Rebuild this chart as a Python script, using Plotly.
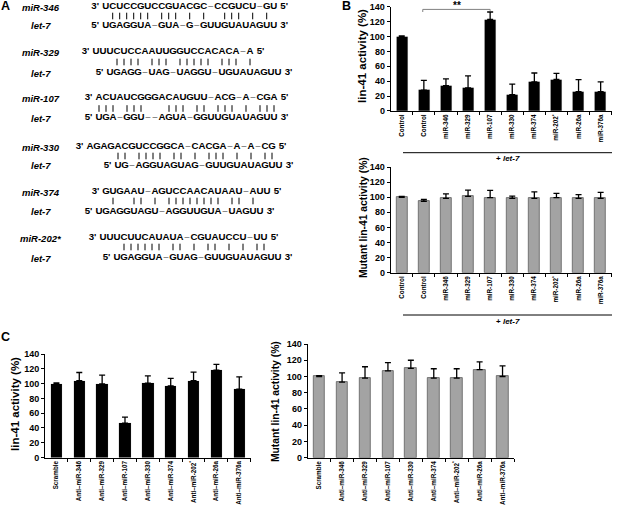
import plotly.graph_objects as go

W, H = 618, 521
FONT = "Liberation Sans, Arial, sans-serif"

# ---------------- Panel A data ----------------
a_mirs = ["miR-346", "miR-329", "miR-107", "miR-330", "miR-374", "miR-202*"]
a_mir_seqs = [
    "UCUCCGUCCGUACGC–CCGUCU–GU",
    "UUUCUCCAAUUGGUCCACACA–A",
    "ACUAUCGGGACAUGUU–ACG–A–CGA",
    "AGAGACGUCCGGCA–CACGA–A–A–CG",
    " GUGAAU–AGUCCAACAUAAU–AUU",
    "UUUCUUCAUAUA–CGUAUCCU–UU",
]
a_pairing = [
    " |||||| ||| | |  ||| | | ",
    "   |||| ||| ||||| ||| |",
    "||| |||   ||| || ||| | |||",
    "    || |||| || | ||| | | ||",
    "  |  || | |||||||| || |",
    "   |||||| || | || | | ||",
]
a_let7_seqs = [
    "UGAGGUA–GUA–G–GUUGUAUAGUU",
    "  UGAGG–UAG–UAGGU–UGUAUAGUU",
    "UGA–GGU––AGUA–GGUUGUAUAGUU",
    "    UG–AGGUAGUAG–GUUGUAUAGUU",
    "UGAGGUAGU–AGGUUGUA–UAGUU",
    "  UGAGGUA–GUAG–GUUGUAUAGUU",
]

# ---------------- Panel B data ----------------
b_labels = ["Control", "Control", "miR-346", "miR-329", "miR-107", "miR-330",
            "miR-374", "miR-202<sup>*</sup>", "miR-26a", "miR-376a"]
b_wt = [100, 28, 34, 31, 123, 22, 39, 42.5, 26, 26]
b_wt_err = [1, 13, 9, 16, 10, 14, 12, 8, 16, 13]
b_mut = [100, 94.5, 98.5, 101, 99.5, 98.5, 98.5, 99.5, 98.5, 98.5]
b_mut_err = [1, 2.5, 6, 8.5, 9.5, 3, 8.5, 5.5, 5, 8]

# ---------------- Panel C data ----------------
c_labels = ["Scramble", "Anti–miR-346", "Anti–miR-329", "Anti–miR-107", "Anti–miR-330",
            "Anti–miR-374", "Anti–miR-202<sup>*</sup>", "Anti–miR-26a", "Anti–miR-376a"]
c_wt = [100, 104, 99.5, 46.5, 100.5, 97, 104, 118, 92.5]
c_wt_err = [1, 11, 12, 8, 10, 10, 11.5, 8, 16.5]
c_mut = [100, 93, 98, 107, 110, 98, 98, 108.5, 100]
c_mut_err = [1, 11.5, 14, 10, 10, 11.5, 11.5, 9.5, 13]

y_ticks = [0, 20, 40, 60, 80, 100, 120, 140]


def px(x):
    return x / W


def py(y):
    return 1 - y / H


fig = go.Figure()

# ---------------- Panel A (text on a pixel-space hidden axis) ----------------
PITCH = 7.0
col0_x = [105.7, 96, 99, 90, 99, 103]
row_y = [(7, 16, 25.5), (52, 62, 73), (98, 108.5, 118), (147, 156, 166), (192, 201, 212), (238, 247, 258)]

lx, ly, lt, lc = [], [], [], []
bx, by = [], []
for k in range(len(a_mirs)):
    x0 = col0_x[k]
    yt, yb, yl = row_y[k]
    for seq, yy, pre, suf in ((a_mir_seqs[k], yt, "3'", "5'"), (a_let7_seqs[k], yl, "5'", "3'")):
        idx = [i for i, ch in enumerate(seq) if ch != " "]
        first, last = idx[0], idx[-1]
        lx.append(x0 + first * PITCH - 10.5); ly.append(yy); lt.append("<b>%s</b>" % pre); lc.append("black")
        for i in idx:
            ch = seq[i]
            lx.append(x0 + i * PITCH); ly.append(yy); lt.append("<b>%s</b>" % ch)
            lc.append("#8a8a8a" if ch == "–" else "black")
        lx.append(x0 + last * PITCH + 10.5); ly.append(yy); lt.append("<b>%s</b>" % suf); lc.append("black")
    for i, ch in enumerate(a_pairing[k]):
        if ch == "|":
            bx += [x0 + i * PITCH, x0 + i * PITCH, None]
            by += [yb - 3.3, yb + 3.3, None]
    fig.add_annotation(x=px(41), y=py(yt), xref="paper", yref="paper", showarrow=False,
                       xanchor="center", yanchor="middle",
                       text="<b><i>%s</i></b>" % a_mirs[k], font=dict(family=FONT, size=9.5, color="black"))
    fig.add_annotation(x=px(41), y=py(yl), xref="paper", yref="paper", showarrow=False,
                       xanchor="center", yanchor="middle",
                       text="<b><i>let-7</i></b>", font=dict(family=FONT, size=9.5, color="black"))

fig.add_trace(go.Scatter(x=lx, y=ly, text=lt, mode="text", textposition="middle center",
                         textfont=dict(family=FONT, size=9.7, color=lc),
                         xaxis="x5", yaxis="y5", hoverinfo="skip", cliponaxis=False))
fig.add_trace(go.Scatter(x=bx, y=by, mode="lines", line=dict(color="black", width=1),
                         xaxis="x5", yaxis="y5", hoverinfo="skip", cliponaxis=False))


# ---------------- Bar panels ----------------
def bars(vals, errs, ax, gray):
    n = len(vals)
    fig.add_trace(go.Bar(
        x=list(range(n)), y=vals, width=0.5,
        marker=dict(color="#a3a3a3" if gray else "black",
                    line=dict(color="#5e5e5e" if gray else "black", width=0.8 if gray else 0.1)),
        error_y=dict(type="data", symmetric=False, array=errs, arrayminus=[0] * n,
                     color="black", thickness=1.3, width=3),
        xaxis="x" + ax, yaxis="y" + ax, hoverinfo="skip"))


bars(b_wt, b_wt_err, "", False)
bars(b_mut, b_mut_err, "2", True)
bars(c_wt, c_wt_err, "3", False)
bars(c_mut, c_mut_err, "4", True)


def xax(dom, labels, anchor):
    n = len(labels)
    return dict(domain=dom, range=[-0.5, n - 0.5], anchor=anchor, tickmode="array",
                tickvals=list(range(n)), ticktext=["<b>%s</b>" % s for s in labels],
                tickangle=-90, ticks="",
                showline=True, linecolor="black", linewidth=1, showgrid=False, zeroline=False,
                tickfont=dict(family=FONT, size=6.3, color="black"), automargin=False,
                fixedrange=True)


def xtick_ax(dom, n, anchor, over):
    # overlay axis that only draws the small ticks at category boundaries
    return dict(domain=dom, range=[-0.5, n - 0.5], anchor=anchor, overlaying=over, side="bottom",
                tickmode="array", tickvals=[i + 0.5 for i in range(n)], ticks="outside", ticklen=3,
                tickcolor="black", tickwidth=1, showticklabels=False, showline=False, showgrid=False,
                zeroline=False, automargin=False, fixedrange=True)


def yax(dom, anchor):
    return dict(domain=dom, range=[0, 140], anchor=anchor, tickmode="array", tickvals=y_ticks,
                ticktext=["<b>%d</b>" % v for v in y_ticks],
                ticks="outside", ticklen=3, tickcolor="black", showline=True, linecolor="black",
                linewidth=1, showgrid=False, zeroline=False, automargin=False,
                tickfont=dict(family=FONT, size=9, color="black"), fixedrange=True)


bx_dom = [px(390.7), px(611.7)]
c1_dom = [px(45), px(250.7)]
c2_dom = [px(307.7), px(514)]
fig.update_layout(
    width=W, height=H, margin=dict(l=0, r=0, t=0, b=0, autoexpand=False),
    paper_bgcolor="white", plot_bgcolor="rgba(0,0,0,0)", showlegend=False, bargap=0,
    font=dict(family=FONT, color="black"),
    xaxis=xax(bx_dom, b_labels, "y"),
    yaxis=yax([py(110.9), py(6.8)], "x"),
    xaxis2=xax(bx_dom, b_labels, "y2"),
    yaxis2=yax([py(272.8), py(167)], "x2"),
    xaxis3=xax(c1_dom, c_labels, "y3"),
    yaxis3=yax([py(457.5), py(354)], "x3"),
    xaxis4=xax(c2_dom, c_labels, "y4"),
    yaxis4=yax([py(457.7), py(344)], "x4"),
    xaxis5=dict(domain=[0, 1], range=[0, W], visible=False, anchor="y5", fixedrange=True, automargin=False),
    yaxis5=dict(domain=[0, 1], range=[H, 0], visible=False, anchor="x5", fixedrange=True, automargin=False),
    xaxis6=xtick_ax(bx_dom, len(b_labels), "y", "x"),
    xaxis7=xtick_ax(bx_dom, len(b_labels), "y2", "x2"),
    xaxis8=xtick_ax(c1_dom, len(c_labels), "y3", "x3"),
    xaxis9=xtick_ax(c2_dom, len(c_labels), "y4", "x4"),
)

# y-axis titles
for (x, y, t, s) in [(362, 56, "lin-41 activity (%)", 11.5),
                     (363, 218, "Mutant lin-41 activity (%)", 10.3),
                     (15, 404, "lin-41 activity (%)", 11.5),
                     (275, 402, "Mutant lin-41 activity (%)", 10.3)]:
    fig.add_annotation(x=px(x), y=py(y), xref="paper", yref="paper", showarrow=False, textangle=-90,
                       xanchor="center", yanchor="middle",
                       text="<b>%s</b>" % t, font=dict(family=FONT, size=s, color="black"))

# panel letters
for (x, y, t) in [(6, 6, "A"), (346, 6, "B"), (6, 337, "C")]:
    fig.add_annotation(x=px(x), y=py(y), xref="paper", yref="paper", showarrow=False,
                       xanchor="center", yanchor="middle",
                       text="<b>%s</b>" % t, font=dict(family=FONT, size=12.5, color="black"))

# "+ let-7" brackets
for (yl, yt) in [(152.7, 158.5), (315, 321.5)]:
    fig.add_shape(type="line", xref="paper", yref="paper", x0=px(403), x1=px(612), y0=py(yl), y1=py(yl),
                  line=dict(color="black", width=1))
    fig.add_annotation(x=px(508), y=py(yt), xref="paper", yref="paper", showarrow=False,
                       xanchor="center", yanchor="middle",
                       text="<b>+ <i>let-7</i></b>", font=dict(family=FONT, size=8, color="black"))

# significance bracket
fig.add_shape(type="path", xref="x", yref="y", path="M 0.95,133 L 0.95,136.5 L 4,136.5 L 4,134.5",
              line=dict(color="#808080", width=1))
fig.add_annotation(x=2.5, y=py(5), xref="x", yref="paper", showarrow=False,
                   xanchor="center", yanchor="middle",
                   text="<b>**</b>", font=dict(family=FONT, size=10, color="black"))

# dummy traces so the tick-only overlay axes are drawn
for ax, ya in (("x6", "y"), ("x7", "y2"), ("x8", "y3"), ("x9", "y4")):
    fig.add_trace(go.Scatter(x=[None], y=[None], xaxis=ax, yaxis=ya, mode="markers", hoverinfo="skip"))

fig.write_html("out.html", config={"displayModeBar": False},
               post_script="document.body.style.margin='0';")
